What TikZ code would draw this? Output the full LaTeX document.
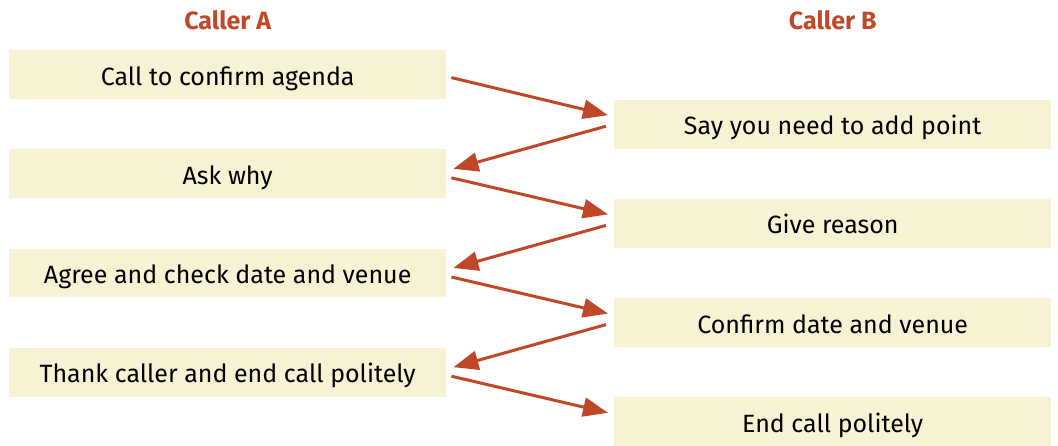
\documentclass[tikz,border=0pt]{standalone}
\usepackage{fontspec}
\setmainfont{Fira Sans}
\usepackage{tikz}
\usetikzlibrary{matrix,arrows.meta}
\definecolor{rust}{RGB}{191,72,40}
\definecolor{paper}{RGB}{247,242,212}
\tikzset{
	callbox/.style={fill=paper, minimum width=437pt, minimum height=48.8pt,
		text height=23pt, text depth=2pt, inner sep=0pt,
		font=\fontsize{25}{30}\selectfont},
	callertitle/.style={fill=none, minimum height=30pt, text height=19pt,
		text depth=0pt, text=rust, font=\fontsize{25}{30}\selectfont\bfseries},
	turn/.style={draw, color=rust, line width=3pt,
		-{Triangle[length=25pt,width=19pt]}}
}

\begin{document}
\begin{tikzpicture}[x=1pt,y=1pt]
			\useasboundingbox (0,0) rectangle (1058,-446);
			\matrix (m) [matrix of nodes, anchor=north west, inner sep=0pt,
				nodes={callbox}, row sep=0.8pt, column sep=168pt]
				at (9,-5)
			{
				|[callertitle]| Caller A & |[callertitle]| Caller B \\[14.2pt]
				Call to confirm agenda & \\
				& Say you need to add point \\
				Ask why & \\
				& Give reason \\
				Agree and check date and venue & \\
				& Confirm date and venue \\
				Thank caller and end call politely & \\
				& End call politely \\};
			\path[every edge/.style={turn}]
			([shift={(5,-3)}]m-2-1.east) edge ([shift={(-6,9)}]m-3-2.west)
			([shift={(-8,-2)}]m-3-2.west) edge ([shift={(7,5)}]m-4-1.east)
			([shift={(5,-4)}]m-4-1.east) edge ([shift={(-6,9)}]m-5-2.west)
			([shift={(-8,-2)}]m-5-2.west) edge ([shift={(7,5)}]m-6-1.east)
			([shift={(5,-4)}]m-6-1.east) edge ([shift={(-6,9)}]m-7-2.west)
			([shift={(-8,-2)}]m-7-2.west) edge ([shift={(7,5)}]m-8-1.east)
			([shift={(5,-4)}]m-8-1.east) edge ([shift={(-6,9)}]m-9-2.west);
		\end{tikzpicture}
\end{document}
